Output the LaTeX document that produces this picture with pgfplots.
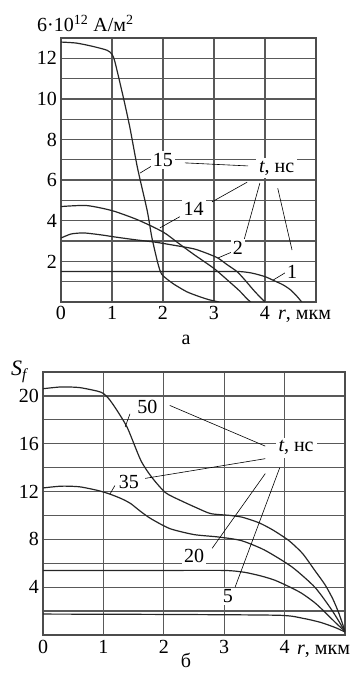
\documentclass[border=0pt]{standalone}
\usepackage{fontspec}
\setmainfont{Liberation Serif}
\usepackage{pgfplots}
\pgfplotsset{compat=1.18}
\tikzset{
  lead/.style={black, line width=0.6bp},
  lbl/.style={fill=white, inner sep=2bp},
}
\pgfplotsset{
  mystyle/.style={
    scale only axis,
    axis line style={black!70, line width=1.4bp},
    grid=both,
    major grid style={black!65, line width=1.3bp},
    minor grid style={black!65, line width=1.3bp},
    major tick length=0pt, minor tick length=0pt,
    tick style={draw=none},
    /pgf/number format/assume math mode=true,
    xticklabel style={anchor=base, yshift=-18bp, inner sep=0pt},
    yticklabel style={anchor=east, xshift=-4bp, inner sep=0pt},
    cycle list={{black!85, no markers}},
    every axis plot post/.append style={black!85, line width=1.2bp, smooth, tension=0.4, solid},
  },
}
\begin{document}
\fontsize{20bp}{24bp}\selectfont
\begin{tikzpicture}
\useasboundingbox (0bp,0bp) rectangle (360bp,677bp);
% ---------- top chart (a) ----------
\begin{axis}[mystyle, at={(61bp,375bp)}, anchor=south west, width=255bp, height=264bp,
  xmin=0, xmax=5, ymin=0, ymax=13,
  xtick={0,1,2,3,4}, ytick={2,4,6,8,10,12}, minor ytick={1,3,5,7,9,11,13}]
% t = 15
\addplot coordinates {(0,12.8) (0.3,12.75) (0.6,12.6) (0.9,12.4) (1.0,12.2) (1.06,11.8) (1.22,10.1) (1.35,8.6) (1.5,6.6) (1.69,4.5) (1.78,3.2) (1.9,1.9) (1.98,1.35) (2.2,0.9) (2.47,0.5) (2.73,0.25) (2.92,0.1) (3.1,0)};
% t = 14
\addplot coordinates {(0,4.7) (0.5,4.75) (1.0,4.5) (1.5,4.05) (2.0,3.45) (2.3,2.9) (2.6,2.35) (3.0,1.65) (3.3,1.0) (3.5,0.55) (3.65,0.15) (3.72,0)};
% t = 2
\addplot coordinates {(0,3.15) (0.2,3.35) (0.45,3.4) (0.8,3.3) (1.06,3.2) (1.5,3.05) (1.84,2.95) (2.2,2.8) (2.63,2.6) (3.05,2.2) (3.25,1.85) (3.45,1.5) (3.6,1.1) (3.77,0.6) (3.9,0.25) (4.0,0)};
% t = 1
\addplot coordinates {(0,1.5) (1.5,1.5) (3.0,1.5) (3.5,1.5) (3.75,1.42) (4.0,1.25) (4.16,1.07) (4.35,0.85) (4.5,0.6) (4.62,0.3) (4.72,0)};
% leaders
\draw[lead] (axis cs:1.78,6.7) -- (axis cs:1.55,6.35);
\draw[lead] (axis cs:2.43,6.85) -- (axis cs:3.67,6.7);
\draw[lead] (axis cs:2.33,4.2) -- (axis cs:1.94,3.65);
\draw[lead] (axis cs:2.96,4.93) -- (axis cs:3.65,5.9);
\draw[lead] (axis cs:3.35,2.46) -- (axis cs:3.08,2.17);
\draw[lead] (axis cs:3.55,2.7) -- (axis cs:3.9,5.86);
\draw[lead] (axis cs:4.39,1.43) -- (axis cs:4.16,1.08);
\draw[lead] (axis cs:4.53,2.56) -- (axis cs:4.25,5.6);
\node[lbl] at (axis cs:2.0,7.0) {15};
\node[lbl] at (axis cs:2.6,4.6) {14};
\node[lbl] at (axis cs:3.47,2.66) {2};
\node[lbl] at (axis cs:4.53,1.48) {1};
\node[lbl, inner sep=3bp] at (axis cs:4.23,6.6) {\textit{t}, нс};
\end{axis}
% ---------- bottom chart (b) ----------
\begin{axis}[mystyle, at={(43bp,42bp)}, anchor=south west, width=302bp, height=263bp,
  xmin=0, xmax=5, ymin=0, ymax=22,
  xtick={0,1,2,3,4}, ytick={4,8,12,16,20}, minor ytick={2,6,10,14,18,22}]
% t = 50
\addplot coordinates {(0,20.6) (0.3,20.75) (0.6,20.7) (0.9,20.4) (1.0,20.2) (1.1,19.7) (1.23,18.75) (1.4,17.3) (1.62,14.6) (1.8,13.2) (2.03,11.9) (2.3,11.2) (2.56,10.6) (2.78,10.15) (3.1,10.0) (3.3,9.85) (3.57,9.4) (3.8,8.8) (4.07,7.9) (4.3,6.8) (4.5,5.4) (4.67,4.2) (4.8,3.0) (4.9,1.8) (5.0,0.3)};
% t = 35
\addplot coordinates {(0,12.3) (0.3,12.45) (0.6,12.4) (0.9,12.1) (1.1,11.8) (1.3,11.4) (1.45,11.0) (1.6,10.4) (1.78,9.75) (2.1,8.9) (2.5,8.4) (2.9,8.2) (3.28,7.9) (3.67,7.1) (4.12,5.7) (4.5,4.0) (4.78,2.1) (5.0,0.3)};
% t = 20
\addplot coordinates {(0,5.4) (1,5.4) (2,5.4) (3,5.4) (3.33,5.25) (3.6,4.95) (3.83,4.6) (4.05,4.1) (4.28,3.5) (4.5,2.7) (4.67,1.9) (4.85,1.0) (5.0,0.3)};
% t = 5
\addplot coordinates {(0,1.75) (2,1.72) (3.9,1.65) (4.3,1.4) (4.6,1.05) (4.85,0.6) (5.0,0.25)};
% leaders
\draw[lead] (axis cs:1.44,18.5) -- (axis cs:1.36,17.4);
\draw[lead] (axis cs:2.1,19.2) -- (axis cs:3.68,15.8);
\draw[lead] (axis cs:1.19,12.5) -- (axis cs:1.11,11.8);
\draw[lead] (axis cs:1.69,13.1) -- (axis cs:3.68,14.75);
\draw[lead] (axis cs:2.8,7.25) -- (axis cs:3.68,13.5);
\draw[lead] (axis cs:3.18,4.0) -- (axis cs:3.92,14.0);
\node[lbl] at (axis cs:1.73,19.04) {50};
\node[lbl] at (axis cs:1.42,12.8) {35};
\node[lbl] at (axis cs:2.5,6.6) {20};
\node[lbl] at (axis cs:3.06,3.25) {5};
\node[lbl, inner sep=3bp] at (axis cs:4.19,15.67) {\textit{t}, нс};
\end{axis}
% ---------- axis labels and captions ----------
\node[anchor=base west, inner sep=0pt] at (37bp,645bp) {6·10\textsuperscript{12} А/м\textsuperscript{2}};
\node[anchor=base west, inner sep=0pt] at (278bp,357bp) {\textit{r}, мкм};
\node[anchor=base west, inner sep=0pt] at (297bp,23bp) {\textit{r}, мкм};
\node[inner sep=0pt] at (20bp,305bp) {\fontsize{22bp}{26bp}\selectfont\textit{S}\textsubscript{\textit{f}}};
\node[inner sep=0pt] at (186bp,337bp) {а};
\node[inner sep=0pt] at (186bp,17bp) {б};
\end{tikzpicture}
\end{document}
